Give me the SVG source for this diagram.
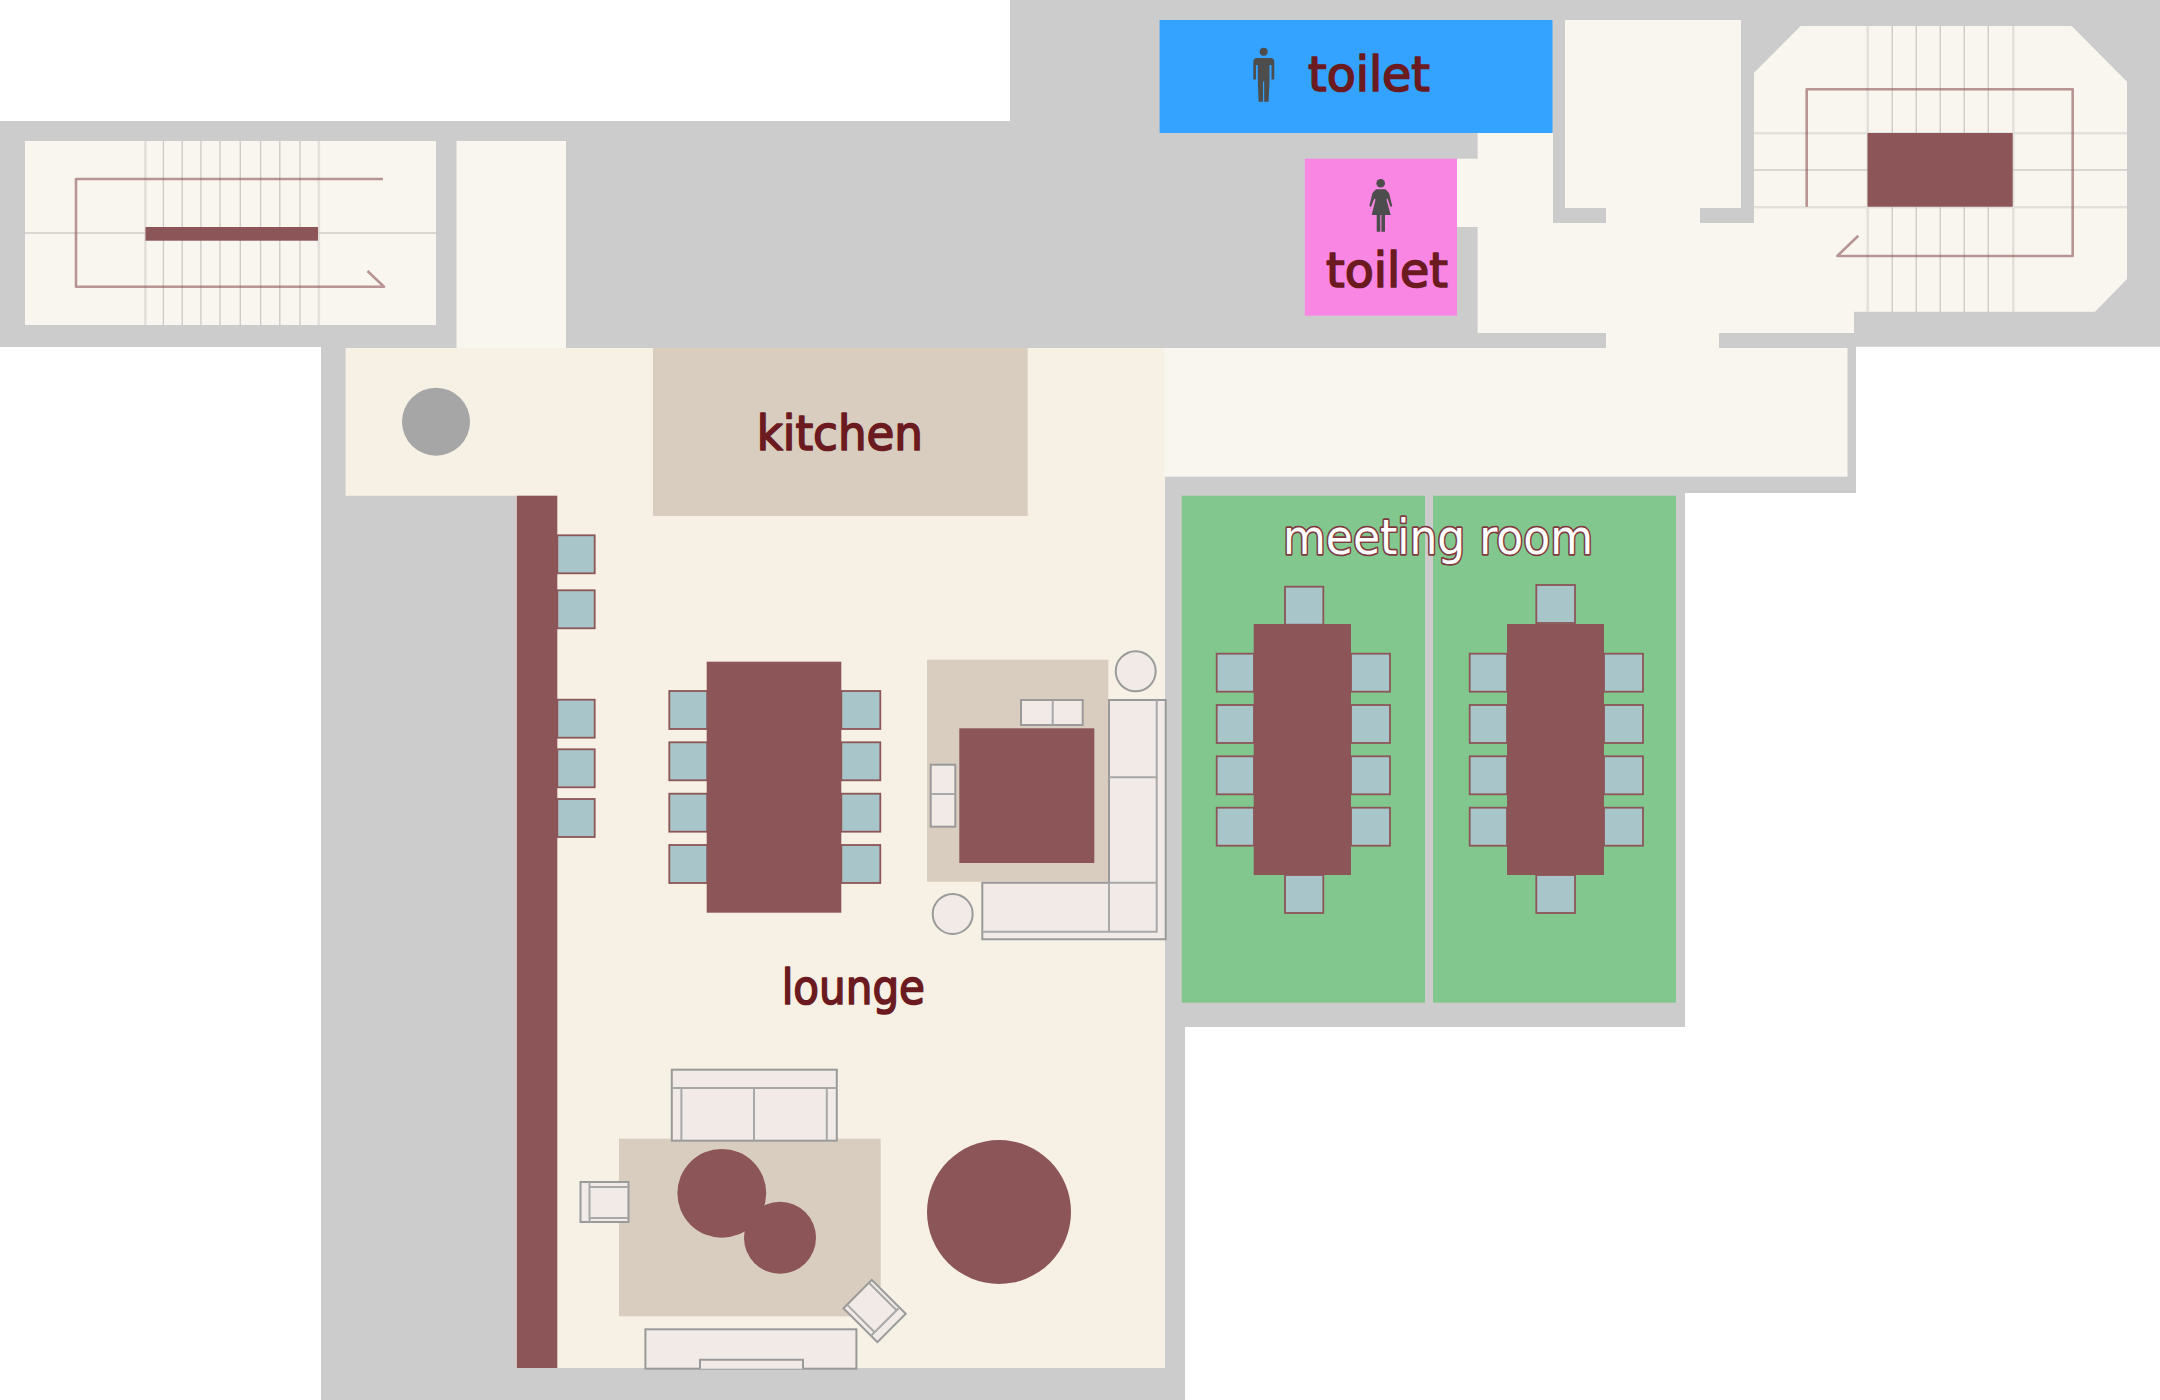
<svg xmlns="http://www.w3.org/2000/svg" xmlns:xlink="http://www.w3.org/1999/xlink" width="2160" height="1400" viewBox="0 0 2160 1400">
<style>
.wall{fill:#cccccc}
.room{fill:#f9f6ef}
.lng{fill:#f7f0e4}
.rug{fill:#d9cdbf}
.tbl{fill:#8c5558}
.ch{fill:#a8c5ca;stroke:#8c5558;stroke-width:1.8}
.so{fill:#f1eae7;stroke:#9a9a9a;stroke-width:2}
.sl{fill:none;stroke:#a8a8a8;stroke-width:2}
.st{stroke:#cfccc7;stroke-width:1.4;fill:none}
.se{stroke:#e4e1dc;stroke-width:2.6;fill:none}
.ar{fill:none;stroke:#8c5558;stroke-width:2.6;stroke-opacity:.6;stroke-linejoin:round}
.ic{fill:#4d4d4d}
.t{font-family:"DejaVu Sans",sans-serif;font-size:48px;fill:#6b1b1f;stroke:#6b1b1f;stroke-width:1.7;stroke-linejoin:round;stroke-linecap:round}
.tw{fill:#ffffff;stroke:#7f3a3f;stroke-width:3.4;paint-order:stroke}
</style>
<defs>
<g id="armchair">
<rect class="so" x="-24" y="-20" width="48" height="40"/>
<path class="sl" d="M-15,-20V20M-15,-15H24M-15,16H24"/>
</g>
</defs>
<rect width="2160" height="1400" fill="#ffffff"/>
<path id="walls" class="wall" d="M0,121H1010V0H2160V346.7H1856V493H1685V1027H1185V1400H321V347H0Z"/>
<g id="stair-west">
<rect class="room" x="25" y="141" width="411" height="184"/>
<path class="se" d="M145.4,141V325M318.8,141V325"/>
<path class="st" d="M163.4,141V325M182.2,141V325M200.9,141V325M220,141V325M240.3,141V325M260.6,141V325M279.8,141V325M300,141V325M25,233H436"/>
<rect class="tbl" x="145.5" y="227" width="172.5" height="13.7"/>
<path class="ar" d="M383,179H76V286.7H384L367.5,271"/>
</g>
<rect id="corridor-west" class="room" x="456.5" y="141" width="109.5" height="207"/>
<g id="lounge">
<path class="lng" d="M345.6,348H1165V1368H516V495.7H345.6Z"/>
<ellipse cx="436" cy="421.7" rx="34" ry="34" fill="#a6a6a6"/>
<rect class="tbl" x="516.7" y="495.7" width="40.6" height="872.3"/>
<rect class="ch" x="557.3" y="535.3" width="37.4" height="38"/>
<rect class="ch" x="557.3" y="590.3" width="37.4" height="38"/>
<rect class="ch" x="557.3" y="699.7" width="37.4" height="38"/>
<rect class="ch" x="557.3" y="749.3" width="37.4" height="38"/>
<rect class="ch" x="557.3" y="799" width="37.4" height="38"/>
<rect class="ch" x="669.3" y="691" width="38" height="38"/>
<rect class="ch" x="669.3" y="742.3" width="38" height="38"/>
<rect class="ch" x="669.3" y="793.7" width="38" height="38"/>
<rect class="ch" x="669.3" y="845" width="38" height="38"/>
<rect class="ch" x="841.3" y="691" width="39" height="38"/>
<rect class="ch" x="841.3" y="742.3" width="39" height="38"/>
<rect class="ch" x="841.3" y="793.7" width="39" height="38"/>
<rect class="ch" x="841.3" y="845" width="39" height="38"/>
<rect class="tbl" x="706.7" y="661.7" width="134.6" height="251"/>
<rect class="rug" x="927" y="659.7" width="181.3" height="222"/>
<rect class="tbl" x="959.3" y="728.3" width="135" height="134.7"/>
<rect class="so" x="1021" y="700" width="61.7" height="25"/>
<path class="sl" d="M1052.7,700V725"/>
<rect class="so" x="930.7" y="764.7" width="24.6" height="62"/>
<path class="sl" d="M930.7,794H955.3"/>
<circle class="so" cx="1135.7" cy="671.3" r="20"/>
<circle class="so" cx="952.7" cy="914" r="20"/>
<path class="so" d="M1109,700H1165.7V939.3H982.3V882.7H1109Z"/>
<path class="sl" d="M1156.7,700V931.7H982.3M1109,777.3H1156.7M1109,882.7H1156.7M1109,882.7V931.7"/>
<rect class="rug" x="619" y="1138.7" width="261.7" height="177.6"/>
<rect class="so" x="671.8" y="1069.7" width="165" height="71"/>
<path class="sl" d="M671.8,1088H836.8M681.4,1088V1140.7M826.8,1088V1140.7M754,1088V1140.7"/>
<circle class="tbl" cx="721.8" cy="1193.3" r="44.4"/>
<circle class="tbl" cx="780" cy="1237.7" r="36"/>
<circle class="tbl" cx="999" cy="1212" r="72"/>
<use xlink:href="#armchair" href="#armchair" transform="translate(604.5,1202)"/>
<use xlink:href="#armchair" href="#armchair" transform="translate(874.6,1311) rotate(-135)"/>
<rect class="so" x="645.4" y="1329.3" width="211" height="39.4"/>
<path class="so" d="M700,1368.7V1359.7H803V1368.7"/>
<text class="t" x="781.7" y="1004" textLength="143.3" lengthAdjust="spacingAndGlyphs">lounge</text>
</g>
<g id="kitchen">
<rect class="rug" x="653" y="348" width="374.7" height="168"/>
<text class="t" x="756.7" y="450" textLength="166.3" lengthAdjust="spacingAndGlyphs">kitchen</text>
</g>
<rect id="corridor-south" class="room" x="1164.5" y="348" width="683" height="128.7"/>
<path id="core" class="room" d="M1477.6,133H1553V223H1606V208H1565V20H1741V208H1700V223H1754V72.7L1800.7,26H2071.7L2127,81.7V279L2095,311.7H1854V333H1719V348H1606V333H1477.6V227H1457V158.7H1477.6Z"/>
<g id="stair-east">
<path class="se" d="M1867.7,26V312M2013.3,26V312M1754,133.3H2127M1754,207.3H2127"/>
<path class="st" d="M1892.3,26V312M1916.3,26V312M1940.3,26V312M1964.3,26V312M1988.3,26V312M1754,170H2127"/>
<rect class="tbl" x="1867.5" y="133" width="145.2" height="73.7"/>
<path class="ar" d="M1806.7,206.7V89.3H2072.7V256H1837.3L1858.3,235.7"/>
</g>
<g id="toilet-men">
<rect x="1159.6" y="20" width="392.9" height="113" fill="#33a3ff"/>
<path class="ic" d="M1257,58H1270.5Q1274.3,58 1274.3,62V79.5H1271.5V65H1269.5V80L1268.6,101.7H1264.2V81.5H1263V101.7H1258.6L1257.8,80V65H1256V79.5H1253.3V62Q1253.3,58 1257,58Z"/>
<circle class="ic" cx="1263.7" cy="51.7" r="4"/>
<text class="t" x="1308" y="90.5" textLength="122" lengthAdjust="spacingAndGlyphs">toilet</text>
</g>
<g id="toilet-women">
<rect x="1304.8" y="158.7" width="152.2" height="157" fill="#f986e3"/>
<path class="ic" d="M1376,189.3H1385.5L1389,193L1392.3,206L1390.5,207L1387.5,198.5L1386.5,199.5L1390.7,215H1385V231.7H1381.4V215H1380.3V231.7H1376.7V215H1371.7L1375.5,199.5L1374.3,198.5L1371,207L1369.3,206L1372.5,193Z"/>
<circle class="ic" cx="1380.7" cy="183.3" r="4.3"/>
<text class="t" x="1326" y="287" textLength="122" lengthAdjust="spacingAndGlyphs">toilet</text>
</g>
<g id="meeting-room">
<rect x="1181.7" y="495.7" width="243.3" height="507" fill="#82c88e"/>
<rect x="1433" y="495.7" width="243" height="507" fill="#82c88e"/>
<rect class="ch" x="1285" y="586.7" width="38.3" height="38"/>
<rect class="ch" x="1285" y="875" width="38.3" height="38"/>
<rect class="ch" x="1216.7" y="653.7" width="37.3" height="38"/>
<rect class="ch" x="1216.7" y="705" width="37.3" height="38"/>
<rect class="ch" x="1216.7" y="756.3" width="37.3" height="38"/>
<rect class="ch" x="1216.7" y="807.7" width="37.3" height="38"/>
<rect class="ch" x="1351" y="653.7" width="39" height="38"/>
<rect class="ch" x="1351" y="705" width="39" height="38"/>
<rect class="ch" x="1351" y="756.3" width="39" height="38"/>
<rect class="ch" x="1351" y="807.7" width="39" height="38"/>
<rect class="tbl" x="1253.7" y="624" width="97.3" height="251"/>
<rect class="ch" x="1536.3" y="585" width="38.7" height="38"/>
<rect class="ch" x="1536.3" y="875" width="38.7" height="38"/>
<rect class="ch" x="1469.7" y="653.7" width="37.3" height="38"/>
<rect class="ch" x="1469.7" y="705" width="37.3" height="38"/>
<rect class="ch" x="1469.7" y="756.3" width="37.3" height="38"/>
<rect class="ch" x="1469.7" y="807.7" width="37.3" height="38"/>
<rect class="ch" x="1604" y="653.7" width="39" height="38"/>
<rect class="ch" x="1604" y="705" width="39" height="38"/>
<rect class="ch" x="1604" y="756.3" width="39" height="38"/>
<rect class="ch" x="1604" y="807.7" width="39" height="38"/>
<rect class="tbl" x="1507" y="624" width="97" height="251"/>
<text class="t tw" x="1283" y="554" textLength="310" lengthAdjust="spacingAndGlyphs">meeting room</text>
</g>
</svg>
